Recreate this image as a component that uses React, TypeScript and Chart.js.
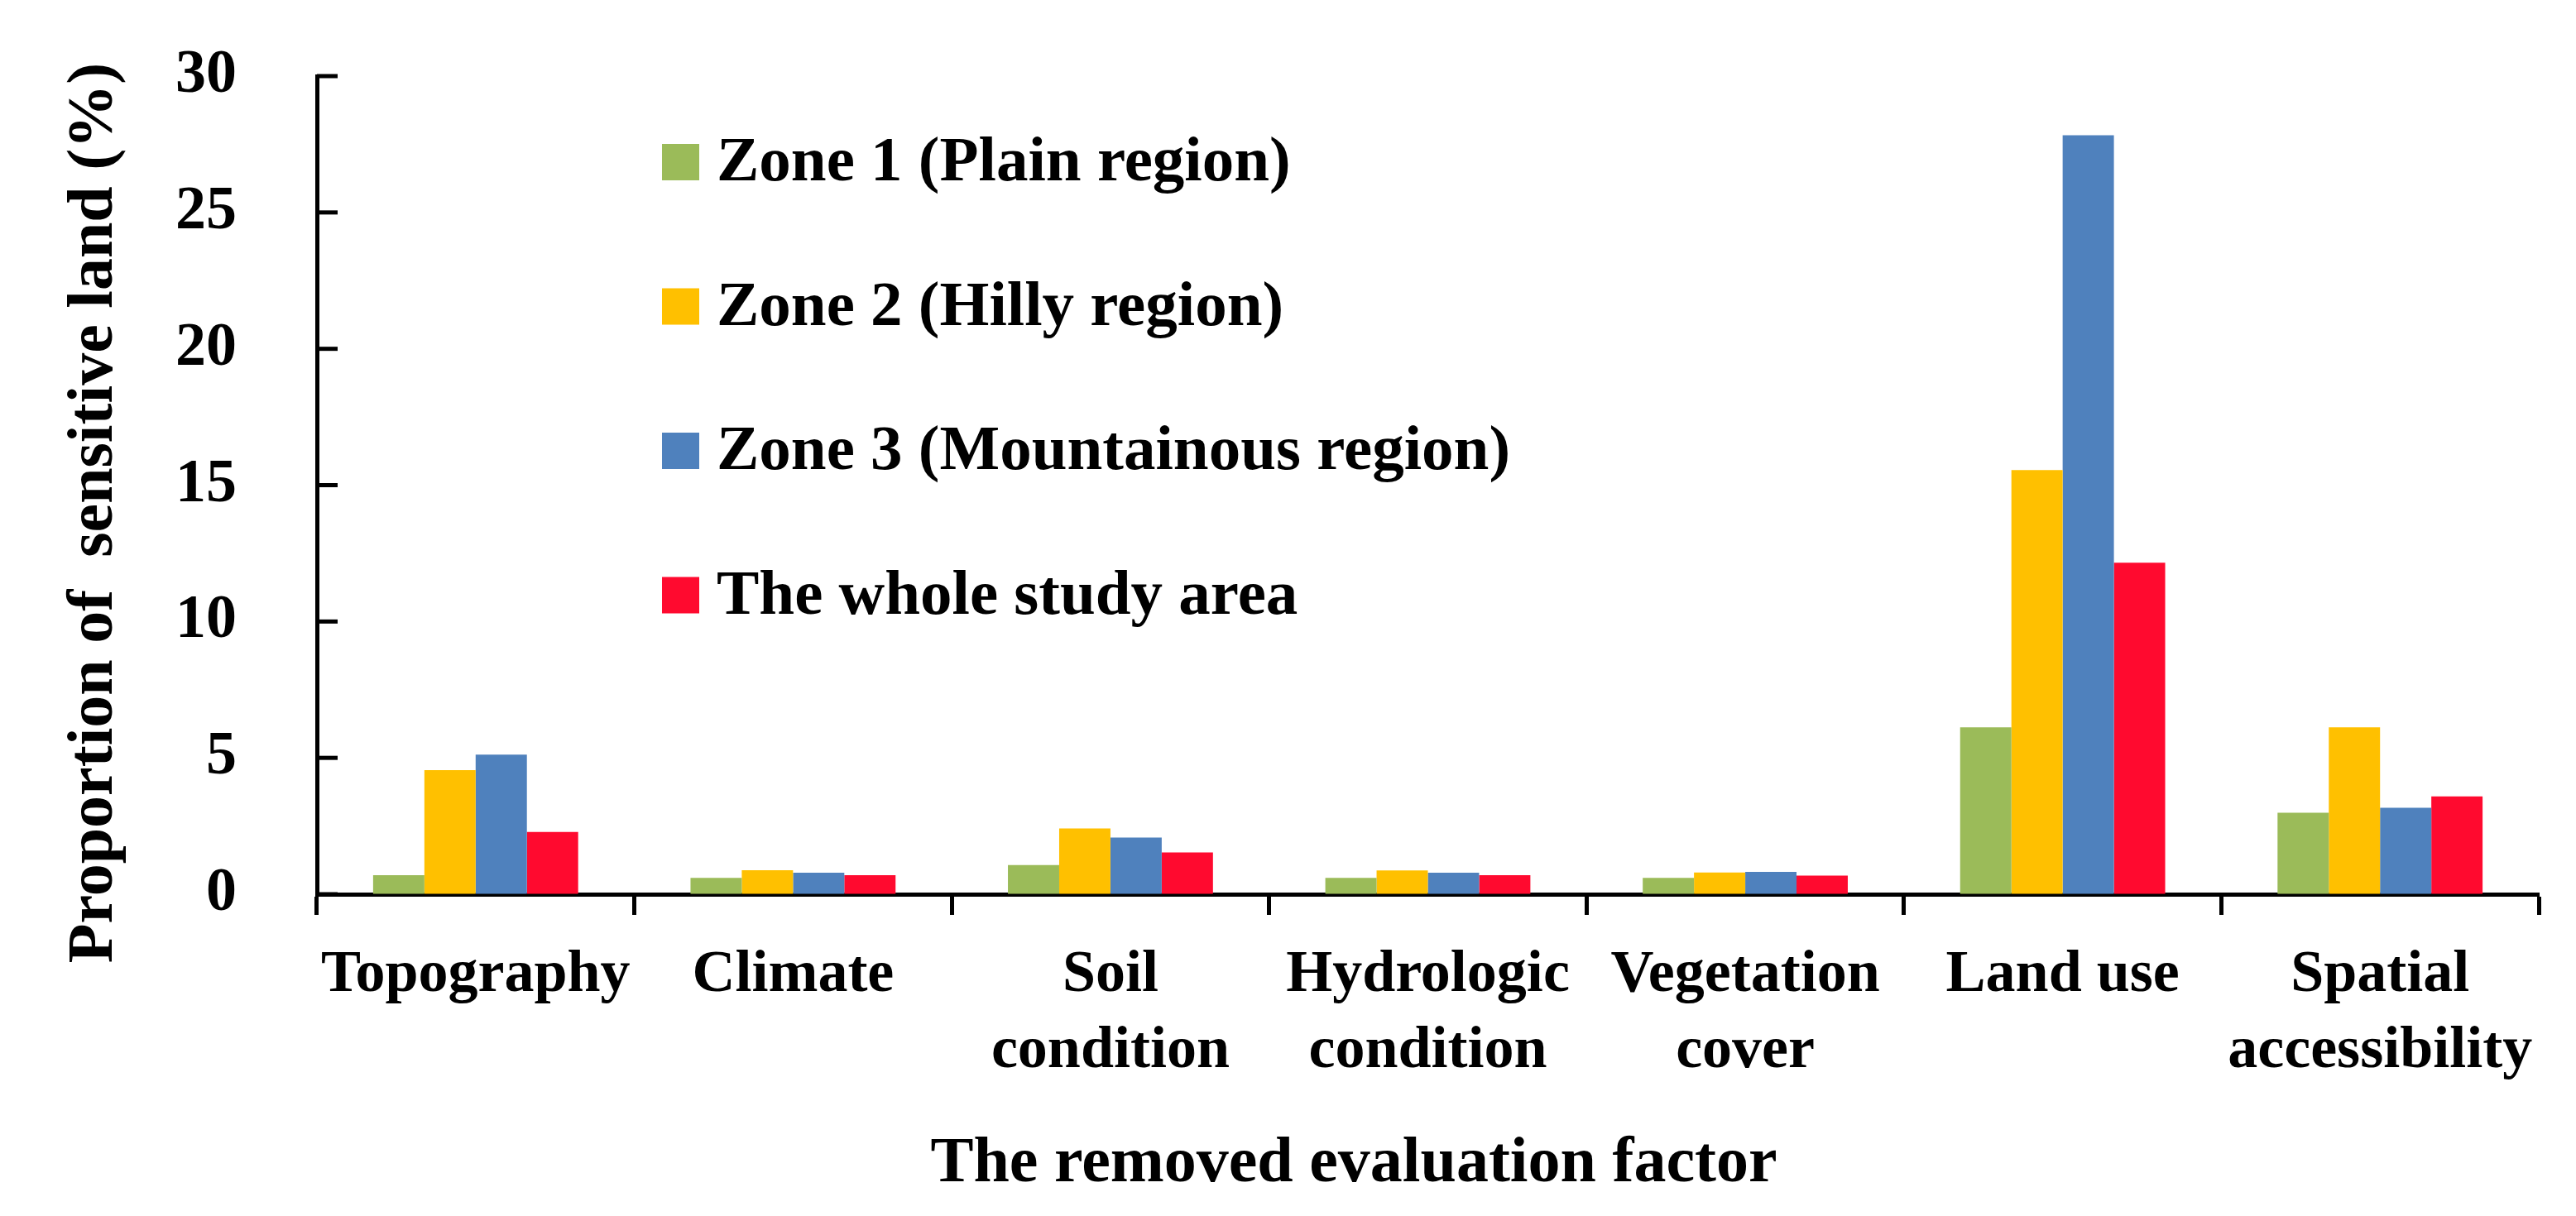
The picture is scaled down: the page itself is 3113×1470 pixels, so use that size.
import React, { useEffect, useRef } from "react";
import { Chart, registerables } from "chart.js";

Chart.register(...registerables);

const categories: (string | string[])[] = [
  "Topography",
  "Climate",
  ["Soil", "condition"],
  ["Hydrologic", "condition"],
  ["Vegetation", "cover"],
  "Land use",
  ["Spatial", "accessibility"],
];

const seriesNames = [
  "Zone 1 (Plain region)",
  "Zone 2 (Hilly region)",
  "Zone 3 (Mountainous region)",
  "The whole study area",
];

const zone1 = [0.7, 0.6, 1.07, 0.6, 0.6, 6.12, 2.99];
const zone2 = [4.55, 0.88, 2.41, 0.87, 0.8, 15.55, 6.12];
const zone3 = [5.12, 0.79, 2.08, 0.79, 0.82, 27.83, 3.17];
const whole = [2.28, 0.7, 1.53, 0.7, 0.68, 12.16, 3.59];

const colors = ["#9BBB59", "#FFC000", "#4F81BD", "#FF0A2F"];

const yTitle = "Proportion of  sensitive land (%)";
const xTitle = "The removed evaluation factor";

const FONT = "'Liberation Serif', 'Times New Roman', serif";

const decorPlugin = {
  id: "decor",
  afterDraw(chart: any) {
    const ctx = chart.ctx as CanvasRenderingContext2D;
    const area = chart.chartArea;
    const yScale = chart.scales.y;
    ctx.save();
    // inward y ticks
    ctx.strokeStyle = "#000";
    ctx.lineWidth = 5;
    yScale.ticks.forEach((t: any) => {
      const py = yScale.getPixelForValue(t.value);
      ctx.beginPath();
      ctx.moveTo(area.left, py);
      ctx.lineTo(area.left + 25, py);
      ctx.stroke();
    });
    // legend
    const ds = chart.data.datasets;
    ctx.font = `bold 77px ${FONT}`;
    ctx.textBaseline = "alphabetic";
    ctx.textAlign = "left";
    ds.forEach((d: any, i: number) => {
      const cy = area.top + 104 + i * 174.5;
      const bx = area.left + 417;
      ctx.fillStyle = d.backgroundColor;
      ctx.fillRect(bx, cy - 22, 45, 44);
      ctx.fillStyle = "#000";
      ctx.fillText(d.label, bx + 66, cy + 22);
    });
    // axis titles
    ctx.font = `bold 78px ${FONT}`;
    ctx.fillStyle = "#000";
    ctx.textAlign = "center";
    ctx.textBaseline = "alphabetic";
    ctx.fillText(xTitle, 1636, area.bottom + 347);
    ctx.translate(area.left - 248, 620);
    ctx.rotate(-Math.PI / 2);
    ctx.fillText(yTitle, 0, 0);
    ctx.restore();
  },
};

export default function App() {
  const ref = useRef<HTMLCanvasElement | null>(null);
  useEffect(() => {
    if (!ref.current) return;
    const series = [zone1, zone2, zone3, whole];
    const chart = new Chart(ref.current, {
      type: "bar",
      data: {
        labels: categories,
        datasets: series.map((s, i) => ({
          label: seriesNames[i],
          data: s,
          backgroundColor: colors[i],
          borderWidth: 0,
          categoryPercentage: 0.646,
          barPercentage: 1,
        })),
      },
      options: {
        responsive: false,
        animation: false,
        maintainAspectRatio: false,
        layout: { padding: { top: 92, right: 45, left: 0, bottom: 0 } },
        plugins: {
          legend: { display: false },
          tooltip: { enabled: false },
          title: { display: false },
        },
        scales: {
          x: {
            grid: {
              display: true,
              drawOnChartArea: false,
              drawTicks: true,
              tickLength: 25,
              tickWidth: 5,
              color: "#000",
              offset: true,
            },
            border: { display: true, color: "#000", width: 5 },
            ticks: {
              color: "#000",
              font: { family: FONT, size: 72, weight: "bold", lineHeight: 1.28 },
              padding: 27,
              maxRotation: 0,
              autoSkip: false,
            },
            afterFit: (scale: any) => {
              scale.height = 389;
              scale.paddingLeft = 0;
              scale.paddingRight = 0;
              scale.paddingTop = 0;
              scale.paddingBottom = 0;
            },
          },
          y: {
            min: 0,
            max: 30,
            ticks: {
              stepSize: 5,
              color: "#000",
              font: { family: FONT, size: 74, weight: "bold" },
              padding: 97,
            },
            grid: { display: true, drawOnChartArea: false, drawTicks: false },
            border: { display: true, color: "#000", width: 5 },
            afterFit: (scale: any) => {
              scale.width = 383;
              scale.paddingTop = 0;
              scale.paddingBottom = 0;
              scale.paddingLeft = 0;
              scale.paddingRight = 0;
            },
          },
        },
      },
      plugins: [decorPlugin],
    });
    return () => chart.destroy();
  }, []);
  return (
    <div style={{ position: "fixed", left: 0, top: 0, width: 3113, height: 1470, background: "#fff" }}>
      <canvas ref={ref} width={3113} height={1470} style={{ width: 3113, height: 1470 }} />
    </div>
  );
}
